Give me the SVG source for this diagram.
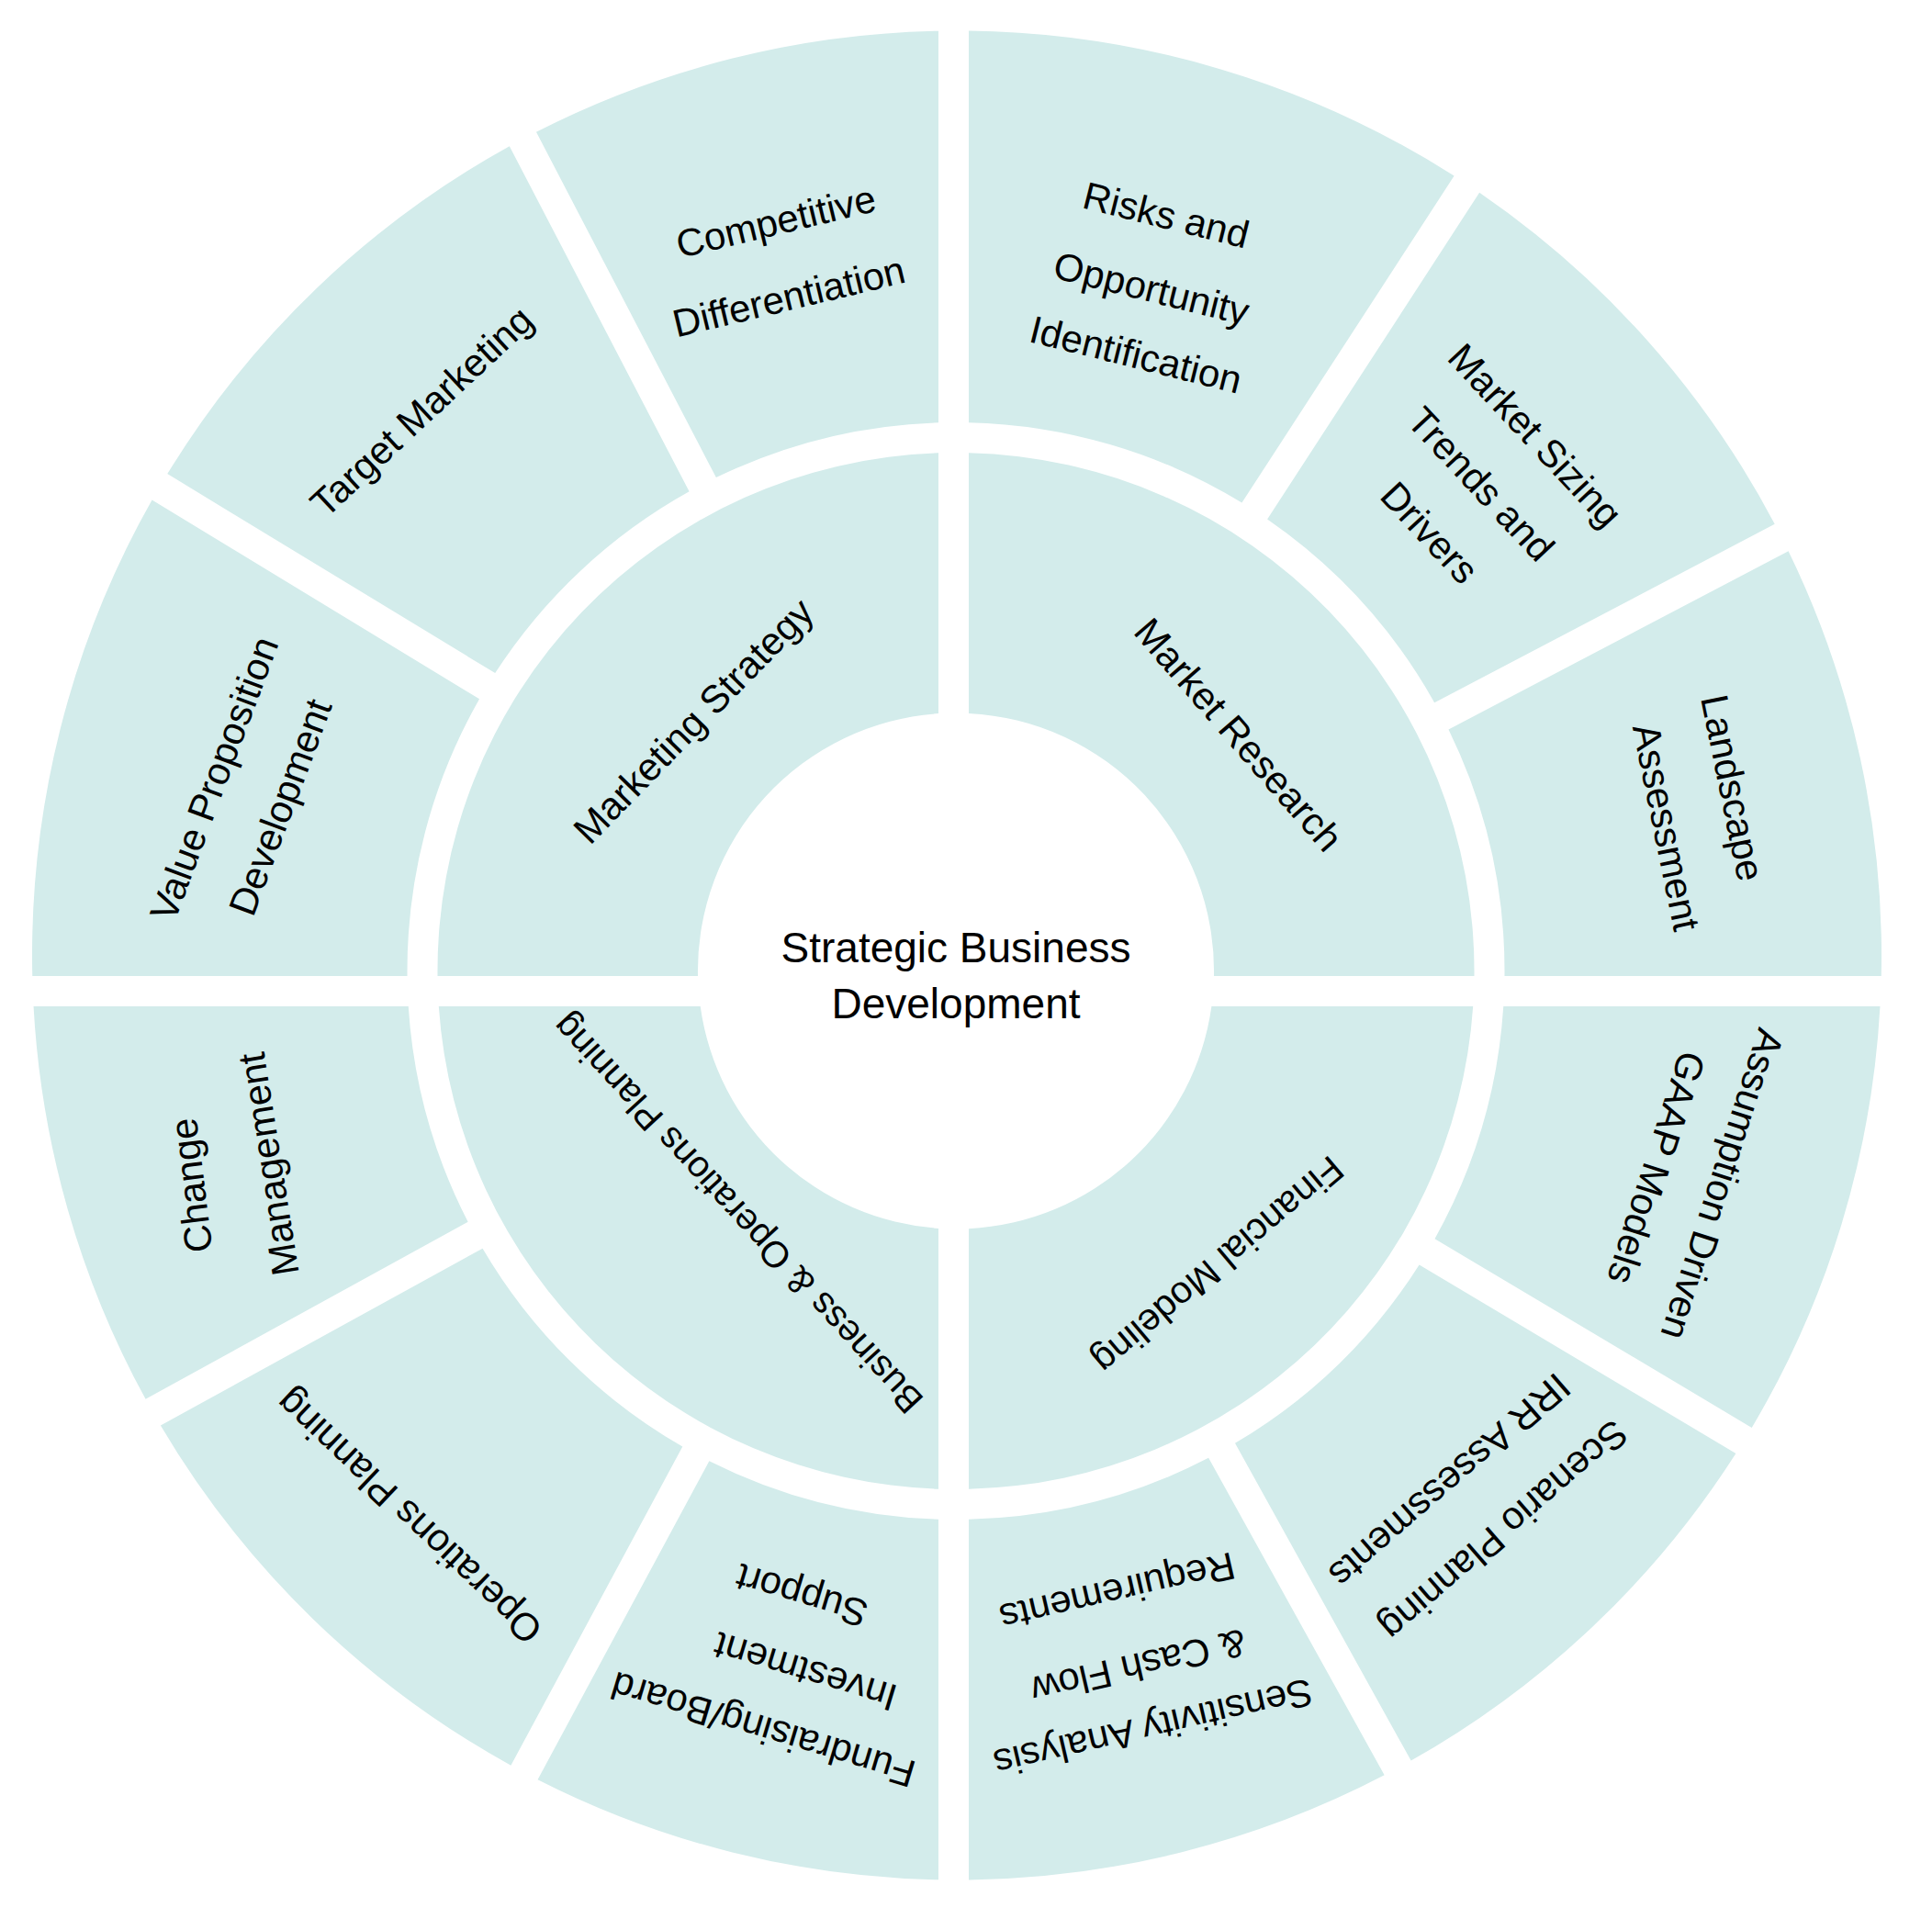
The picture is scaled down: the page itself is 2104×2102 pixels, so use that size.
<svg xmlns="http://www.w3.org/2000/svg" width="2104" height="2102" viewBox="0 0 2104 2102">
<style>
.seg{fill:#d3eceb}
.lbl{font-family:"Liberation Sans",Arial,Helvetica,sans-serif;font-size:42px;fill:#000;text-anchor:middle}
.ctr{font-size:46px}
</style>
<rect width="2104" height="2102" fill="#ffffff"/>
<g id="center">
<text class="lbl ctr" x="1041" y="1048">Strategic Business</text>
<text class="lbl ctr" x="1041" y="1109">Development</text>
</g>
<g id="market-research">
<path class="seg" d="M1055,493.2 A564.5,564.5 0 0 1 1605.5,1063 L1322,1063 A281,281 0 0 0 1055,776.9 Z"/>
<text class="lbl" dy="0.35em" transform="translate(1349 800) rotate(49)">Market Research</text>
</g>
<g id="marketing-strategy">
<path class="seg" d="M476.5,1063 A564.5,564.5 0 0 1 1022,493.3 L1022,777.1 A281,281 0 0 0 760,1063 Z"/>
<text class="lbl" dy="0.35em" transform="translate(755 785) rotate(-45.7)">Marketing Strategy</text>
</g>
<g id="financial-modeling">
<path class="seg" d="M1604.2,1096 A564.5,564.5 0 0 1 1055,1621.8 L1055,1338.2 A281,281 0 0 0 1319.4,1096 Z"/>
<text class="lbl" dy="0.35em" style="font-size:41px" transform="translate(1327 1378) rotate(139.8)">Financial Modeling</text>
</g>
<g id="business-operations-planning">
<path class="seg" d="M1022,1621.7 A564.5,564.5 0 0 1 477.8,1096 L762.7,1096 A281,281 0 0 0 1022,1337.9 Z"/>
<text class="lbl" dy="0.35em" style="font-size:40px" transform="translate(803 1322) rotate(227.4)">Business &amp; Operations Planning</text>
</g>
<g id="risks-opportunity">
<path class="seg" d="M1055,33.58 A1007,1007 0 0 1 1583.61,191.55 L1352.43,547.58 A597.5,597.5 0 0 0 1055,460.16 Z"/>
<text class="lbl" dy="0.35em" transform="translate(1270 234) rotate(14)">Risks and</text>
<text class="lbl" dy="0.35em" transform="translate(1254 314) rotate(14)">Opportunity</text>
<text class="lbl" dy="0.35em" transform="translate(1237 386) rotate(14)">Identification</text>
</g>
<g id="market-sizing">
<path class="seg" d="M1611.14,209.77 A1007,1007 0 0 1 1932.71,570.75 L1562.15,765.28 A597.5,597.5 0 0 0 1380.11,565.56 Z"/>
<text class="lbl" dy="0.35em" transform="translate(1672 474) rotate(47)">Market Sizing</text>
<text class="lbl" dy="0.35em" transform="translate(1613 527) rotate(47)">Trends and</text>
<text class="lbl" dy="0.35em" transform="translate(1557 580) rotate(47)">Drivers</text>
</g>
<g id="landscape-assessment">
<path class="seg" d="M1947.63,600.19 A1007,1007 0 0 1 2048.75,1063 L1638.47,1063 A597.5,597.5 0 0 0 1577.49,794.5 Z"/>
<text class="lbl" dy="0.35em" transform="translate(1887 858) rotate(78.5)">Landscape</text>
<text class="lbl" dy="0.35em" transform="translate(1815 901) rotate(78.5)">Assessment</text>
</g>
<g id="gaap-models">
<path class="seg" d="M2047.47,1096 A1007,1007 0 0 1 1907.72,1554.89 L1562.5,1349.13 A597.5,597.5 0 0 0 1637.26,1096 Z"/>
<text class="lbl" dy="0.35em" transform="translate(1876 1290) rotate(107.8)">Assumption Driven</text>
<text class="lbl" dy="0.35em" transform="translate(1804 1272) rotate(107.8)">GAAP Models</text>
</g>
<g id="scenario-planning">
<path class="seg" d="M1890.4,1582.98 A1007,1007 0 0 1 1536.64,1917.62 L1344.99,1571.87 A597.5,597.5 0 0 0 1545.6,1377.47 Z"/>
<text class="lbl" dy="0.35em" transform="translate(1638 1667) rotate(139)">Scenario Planning</text>
<text class="lbl" dy="0.35em" transform="translate(1579 1613) rotate(139)">IRR Assessments</text>
</g>
<g id="sensitivity-analysis">
<path class="seg" d="M1507.64,1933.37 A1007,1007 0 0 1 1055,2047.42 L1055,1654.84 A597.5,597.5 0 0 0 1316.13,1587.87 Z"/>
<text class="lbl" dy="0.35em" transform="translate(1256 1882) rotate(167)">Sensitivity Analysis</text>
<text class="lbl" dy="0.35em" transform="translate(1240 1815) rotate(167)">&amp; Cash Flow</text>
<text class="lbl" dy="0.35em" transform="translate(1217 1734) rotate(167)">Requirements</text>
</g>
<g id="fundraising">
<path class="seg" d="M1022,2047.3 A1007,1007 0 0 1 585.56,1938.14 L772.36,1591.22 A597.5,597.5 0 0 0 1022,1654.7 Z"/>
<text class="lbl" dy="0.35em" transform="translate(831 1884) rotate(196.8)">Fundraising/Board</text>
<text class="lbl" dy="0.35em" transform="translate(877 1821) rotate(196.8)">Investment</text>
<text class="lbl" dy="0.35em" transform="translate(873 1738) rotate(196.8)">Support</text>
</g>
<g id="operations-planning">
<path class="seg" d="M556.39,1922.71 A1007,1007 0 0 1 174.88,1552.53 L525.56,1359.72 A597.5,597.5 0 0 0 743.3,1575.58 Z"/>
<text class="lbl" dy="0.35em" transform="translate(445 1652) rotate(223.5)">Operations Planning</text>
</g>
<g id="change-management">
<path class="seg" d="M158.56,1523.84 A1007,1007 0 0 1 36.53,1096 L444.74,1096 A597.5,597.5 0 0 0 509.66,1330.8 Z"/>
<text class="lbl" dy="0.35em" transform="translate(208 1291) rotate(-97)">Change</text>
<text class="lbl" dy="0.35em" transform="translate(292 1268) rotate(-99)">Management</text>
</g>
<g id="value-proposition">
<path class="seg" d="M35.25,1063 A1007,1007 0 0 1 165.56,544.58 L522.06,761.32 A597.5,597.5 0 0 0 443.53,1063 Z"/>
<text class="lbl" dy="0.35em" transform="translate(233 848) rotate(-69.5)">Value Proposition</text>
<text class="lbl" dy="0.35em" transform="translate(305 879) rotate(-69.5)">Development</text>
</g>
<g id="target-marketing">
<path class="seg" d="M182.27,516.12 A1007,1007 0 0 1 554.83,159.23 L750.6,535.34 A597.5,597.5 0 0 0 539.2,733.12 Z"/>
<text class="lbl" dy="0.35em" transform="translate(459 448) rotate(-43)">Target Marketing</text>
</g>
<g id="competitive-differentiation">
<path class="seg" d="M583.97,143.73 A1007,1007 0 0 1 1022,33.7 L1022,460.3 A597.5,597.5 0 0 0 779.88,520.1 Z"/>
<text class="lbl" dy="0.35em" transform="translate(845 241) rotate(-13.5)">Competitive</text>
<text class="lbl" dy="0.35em" transform="translate(859 323) rotate(-13.5)">Differentiation</text>
</g>
</svg>
